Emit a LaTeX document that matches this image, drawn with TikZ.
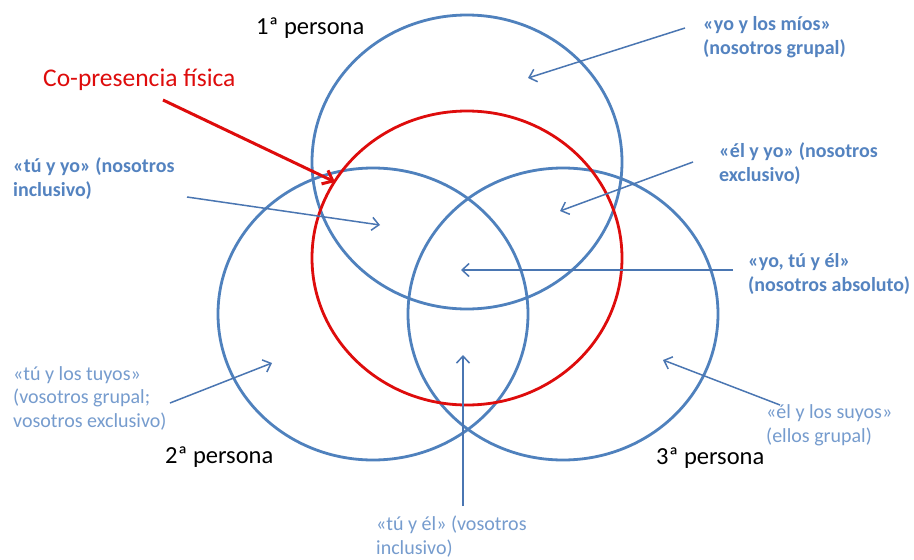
\documentclass[tikz,border=0pt]{standalone}
\usepackage{fontspec}
\setmainfont{Carlito}
\usetikzlibrary{arrows.meta}

\definecolor{circblue}{RGB}{79,129,189}
\definecolor{ptrblue}{RGB}{74,118,178}
\definecolor{labblue}{RGB}{84,131,192}
\definecolor{lightblue}{RGB}{118,156,206}
\definecolor{copred}{RGB}{222,12,12}

\begin{document}
\begin{tikzpicture}[
  x=1pt, y=-1pt,
  circ/.style={draw=circblue, line width=2.8pt},
  redcirc/.style={draw=copred, line width=2.8pt},
  ptr/.style={draw=ptrblue, line width=1.5pt, -{Straight Barb[length=7pt, width=13pt]}},
  redptr/.style={draw=copred, line width=3pt, -{Straight Barb[length=9pt, width=15pt]}},
  persona/.style={anchor=base west, inner sep=0pt, font=\fontsize{24.5}{28}\selectfont},
  boldlab/.style={anchor=base west, inner sep=0pt, align=left, text=labblue,
    font=\fontsize{20}{24}\selectfont\bfseries},
  lightlab/.style={anchor=base west, inner sep=0pt, align=left, text=lightblue,
    font=\fontsize{20}{23.5}\selectfont},
  ]

\useasboundingbox[fill=white] (0,0) rectangle (914,560);

% las tres personas
\draw[circ] (467,162) ellipse [x radius=155pt, y radius=147pt];
\draw[circ] (373,314) ellipse [x radius=155pt, y radius=146pt];
\draw[circ] (563,314) ellipse [x radius=155pt, y radius=146pt];
% co-presencia
\draw[redcirc] (467,258) ellipse [x radius=155pt, y radius=147pt];

% etiquetas
\node[persona] (p1) at (256,34) {1ª persona};
\node[persona] (p2) at (165,463) {2ª persona};
\node[persona] (p3) at (656,464) {3ª persona};
\node[persona, text=copred, font=\fontsize{25.5}{29}\selectfont] (cop) at (43,86) {Co-presencia física};

\node[boldlab] (mios) at (703,54) {«yo y los míos»\\(nosotros grupal)};
\node[boldlab] (elyo) at (719,181) {«él y yo» (nosotros\\exclusivo)};
\node[boldlab] (todos) at (748,291) {«yo, tú y él»\\(nosotros absoluto)};
\node[boldlab] (tuyo) at (13,196) {«tú y yo» (nosotros\\inclusivo)};
\node[lightlab] (tuyos) at (13,427) {«tú y los tuyos»\\(vosotros grupal;\\vosotros exclusivo)};
\node[lightlab] (suyos) at (766,442) {«él y los suyos»\\(ellos grupal)};
\node[lightlab] (tuel) at (376,554) {«tú y él» (vosotros\\inclusivo)};

% flechas
\coordinate (copT) at (163,100);   \coordinate (copH) at (335,182);
\coordinate (miosT) at (685,28);   \coordinate (miosH) at (528,78);
\coordinate (elyoT) at (693,162);  \coordinate (elyoH) at (560,211);
\coordinate (todosT) at (733,270); \coordinate (todosH) at (461,270);
\coordinate (tuyoT) at (187,197);  \coordinate (tuyoH) at (380,225);
\coordinate (tuyosT) at (170,403); \coordinate (tuyosH) at (272,363);
\coordinate (suyosT) at (780,405); \coordinate (suyosH) at (663,360);
\coordinate (tuelT) at (463,506);  \coordinate (tuelH) at (463,355);

\draw[redptr] (copT) -- (copH);
\foreach \a in {mios, elyo, todos, tuyo, tuyos, suyos, tuel}
  \draw[ptr] (\a T) -- (\a H);

\end{tikzpicture}
\end{document}
